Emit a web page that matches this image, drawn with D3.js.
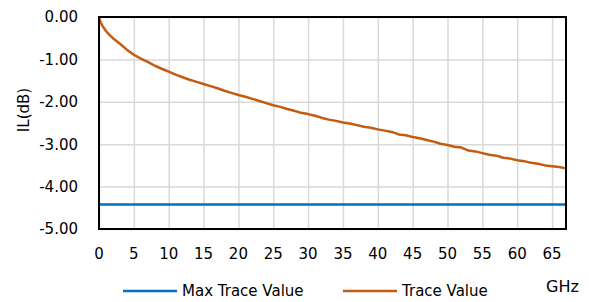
<!DOCTYPE html>
<html lang="en">
<head>
	<meta charset="utf-8">
	<title>IL vs frequency</title>
	<script src="https://d3js.org/d3.v7.min.js"></script>
	<style type="text/css">
		body { margin: 0; background: #fff; }
		text { font-family: "DejaVu Sans", sans-serif; font-size: 15px; fill: #000; }
	</style>
</head>
<body>
	<script type="text/javascript">
	// colours
	var blue = "#0070c0"
	var orange = "#c55a11"
	var grid = "#d9d9d9"

	// data (GHz, dB)
	var freqs = [0, 0.1, 0.25, 0.5, 1, 1.5, 2, 3, 4, 5, 6, 7, 8, 9, 10, 11, 12, 13, 14, 15, 16, 17, 18, 19, 20,
		21, 22, 23, 24, 25, 26, 27, 28, 29, 30, 31, 32, 33, 34, 35, 36, 37, 38, 39, 40, 41, 42, 43, 44, 45,
		46, 47, 48, 49, 50, 51, 52, 53, 54, 55, 56, 57, 58, 59, 60, 61, 62, 63, 64, 65, 66, 67]
	var traceValue = [0, -0.07, -0.13, -0.21, -0.33, -0.42, -0.5, -0.63, -0.77, -0.89, -0.98, -1.06, -1.15, -1.22, -1.29,
		-1.36, -1.42, -1.48, -1.53, -1.58, -1.63, -1.68, -1.74, -1.79, -1.84,
		-1.88, -1.93, -1.98, -2.03, -2.08, -2.12, -2.17, -2.21, -2.26, -2.29, -2.33, -2.38, -2.42, -2.45, -2.49,
		-2.51, -2.55, -2.59, -2.61, -2.65, -2.68, -2.71, -2.77, -2.79, -2.83,
		-2.86, -2.90, -2.94, -2.99, -3.02, -3.06, -3.08, -3.15, -3.17, -3.21, -3.25, -3.27, -3.32, -3.34, -3.38,
		-3.40, -3.44, -3.46, -3.50, -3.52, -3.54, -3.57]
	var maxTraceValue = -4.42

	var xTicks = [0, 5, 10, 15, 20, 25, 30, 35, 40, 45, 50, 55, 60, 65]
	var yTicks = [0, -1, -2, -3, -4, -5]

	var w = 589
	var h = 302
	var plotL = 99, plotR = 566, plotT = 17, plotB = 229

	var xScale = d3.scaleLinear().domain([0, 67]).range([plotL, plotR])
	var yScale = d3.scaleLinear().domain([-5, 0]).range([plotB, plotT])

	var svg = d3.select("body")
				.append("svg")
				.attr("width", w)
				.attr("height", h)

	// grid
	svg.append("g")
		.attr("transform", "translate(0," + plotB + ")")
		.call(d3.axisBottom(xScale).tickValues(xTicks).tickSize(-(plotB - plotT)).tickFormat(""))
		.call(g => g.select(".domain").remove())
		.selectAll("line").attr("stroke", grid).attr("stroke-width", 1.5)

	svg.append("g")
		.attr("transform", "translate(" + plotL + ",0)")
		.call(d3.axisLeft(yScale).tickValues(yTicks).tickSize(-(plotR - plotL)).tickFormat(""))
		.call(g => g.select(".domain").remove())
		.selectAll("line").attr("stroke", grid).attr("stroke-width", 1.5)

	// tick labels (plain hyphen minus like the original)
	svg.append("g")
		.selectAll("text")
		.data(yTicks)
		.enter()
		.append("text")
		.attr("x", 78)
		.attr("y", d => yScale(d))
		.attr("dy", "0.36em")
		.attr("text-anchor", "end")
		.text(d => d.toFixed(2))

	svg.append("g")
		.selectAll("text")
		.data(xTicks)
		.enter()
		.append("text")
		.attr("x", d => xScale(d))
		.attr("y", 259)
		.attr("text-anchor", "middle")
		.text(d => d)

	// axis titles
	svg.append("text")
		.attr("transform", "translate(29,110) rotate(-90)")
		.attr("text-anchor", "middle")
		.text("IL(dB)")

	svg.append("text")
		.attr("x", 546)
		.attr("y", 292)
		.style("font-size", "16px")
		.text("GHz")

	// lines
	svg.append("line")
		.attr("x1", xScale(0))
		.attr("x2", xScale(67))
		.attr("y1", yScale(maxTraceValue))
		.attr("y2", yScale(maxTraceValue))
		.attr("stroke", blue)
		.attr("stroke-width", 2.5)

	var line = d3.line()
				.x((d, i) => xScale(freqs[i]))
				.y(d => yScale(d))

	svg.append("path")
		.attr("d", line(traceValue))
		.attr("fill", "none")
		.attr("stroke", orange)
		.attr("stroke-width", 2.5)
		.attr("stroke-linejoin", "round")

	// plot border
	svg.append("rect")
		.attr("x", plotL)
		.attr("y", plotT)
		.attr("width", plotR - plotL)
		.attr("height", plotB - plotT)
		.attr("fill", "none")
		.attr("stroke", "#000")
		.attr("stroke-width", 2)

	// legend
	var legend = [
		{name: "Max Trace Value", color: blue, x: 123},
		{name: "Trace Value", color: orange, x: 343}
	]
	var lg = svg.append("g")
	lg.selectAll("line")
		.data(legend)
		.enter()
		.append("line")
		.attr("x1", d => d.x)
		.attr("x2", d => d.x + 54)
		.attr("y1", 291)
		.attr("y2", 291)
		.attr("stroke", d => d.color)
		.attr("stroke-width", 2.5)
	lg.selectAll("text")
		.data(legend)
		.enter()
		.append("text")
		.attr("x", d => d.x + 59)
		.attr("y", 296)
		.text(d => d.name)
	</script>
</body>
</html>
